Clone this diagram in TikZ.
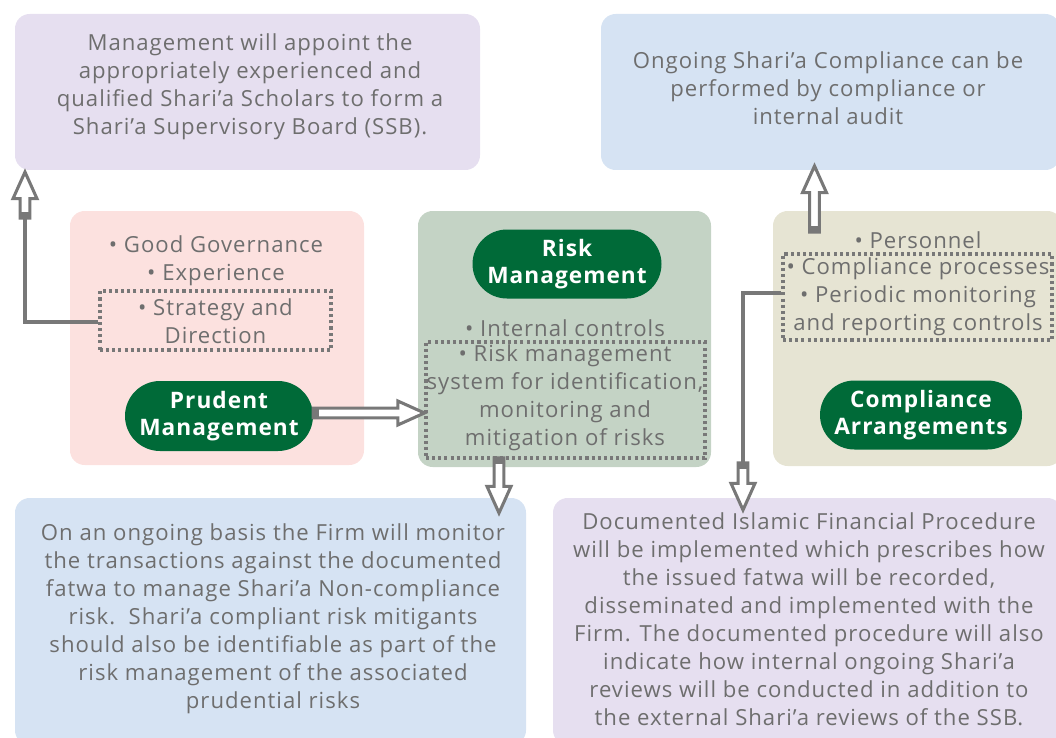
\documentclass[tikz,border=0pt]{standalone}
\usepackage{fontspec}
\setmainfont{Open Sans}[LetterSpace=4.5]
\usetikzlibrary{calc,shapes.misc}
\definecolor{txtgray}{RGB}{110,110,110}
\definecolor{arrgray}{RGB}{120,120,120}
\definecolor{lav}{RGB}{230,223,240}
\definecolor{lblue}{RGB}{214,227,243}
\definecolor{lpink}{RGB}{252,225,223}
\definecolor{lgreen}{RGB}{196,211,197}
\definecolor{lbeige}{RGB}{230,228,211}
\definecolor{pillgreen}{RGB}{0,106,56}
\newcommand\blockarrow[3]{%
  \coordinate (#1b) at ($(#3)!20pt!(#2)$);
  \draw[arrbody] ($(#2)!3.6pt!90:(#3)$) -- ($(#1b)!3.6pt!90:(#3)$) -- ($(#1b)!9pt!90:(#3)$) -- (#3)
     -- ($(#1b)!9pt!-90:(#3)$) -- ($(#1b)!3.6pt!-90:(#3)$) -- ($(#2)!3.6pt!-90:(#3)$) -- cycle;
  \draw[arrcap] (#2) -- ($(#2)!4.5pt!(#3)$);
}
\begin{document}
\begin{tikzpicture}[x=0.75pt,y=-0.75pt,
  bg/.style={rectangle, rounded corners=11pt, draw=none, inner sep=0pt},
  txt/.style={text=txtgray, align=center, inner sep=0pt, font=\fontsize{16.6}{21}\selectfont},
  pill/.style={rounded rectangle, fill=pillgreen, text=white, align=center, inner sep=0pt,
     font=\fontsize{17}{20.5}\selectfont\bfseries},
  dotbox/.style={rectangle, draw=arrgray, line width=2.3pt, dash pattern=on 2.3pt off 2.3pt, inner sep=0pt},
  conn/.style={draw=arrgray, line width=2.5pt},
  arrbody/.style={draw=arrgray, fill=white, line width=2.3pt, line join=miter},
  arrcap/.style={draw=arrgray, line width=9.4pt}
]
\useasboundingbox (0,0) rectangle (1056,738);
% backgrounds
\node[bg, fill=lav,    minimum width=348.75pt, minimum height=117pt]    (tl) at (247.5,92) {};
\node[bg, fill=lblue,  minimum width=344.25pt, minimum height=117pt]    (tr) at (830.5,92) {};
\node[bg, fill=lpink,  minimum width=220.5pt,  minimum height=190.5pt]  (pk) at (217,338) {};
\node[bg, fill=lgreen, minimum width=219.75pt, minimum height=192pt]    (gr) at (564.5,339) {};
\node[bg, fill=lbeige, minimum width=216.75pt, minimum height=191.25pt] (be) at (917.5,338.5) {};
\node[bg, fill=lblue,  minimum width=383.25pt, minimum height=185.25pt] (bl) at (270.5,621.5) {};
\node[bg, fill=lav,    minimum width=381.75pt, minimum height=185.25pt] (br) at (807.5,621.5) {};
% top texts
\node[txt] (tltxt) at (250,87) {Management will appoint the\\appropriately experienced and\\qualified Shari’a Scholars to form a\\Shari’a Supervisory Board (SSB).};
\node[txt] (trtxt) at (828,88) {Ongoing Shari’a Compliance can be\\performed by compliance or\\internal audit};
% pink
\node[txt] (pktxt) at (216,261) {• Good Governance\\• Experience};
\node[dotbox, minimum width=173.25pt, minimum height=44.25pt] (dotL) at (215.5,320.5) {};
\node[txt] (pktxt2) at (215.5,321) {• Strategy and\\Direction};
\node[pill, minimum width=141pt, minimum height=52.5pt] (ppill) at (219,416) {Prudent\\Management};
% green
\node[pill, minimum width=141.75pt, minimum height=51.75pt] (rpill) at (567,264) {Risk\\Management};
\node[txt] (grtxt) at (565,328) {• Internal controls};
\node[dotbox, minimum width=209.25pt, minimum height=87pt] (dotM) at (565.5,400) {};
\node[txt] (grtxt2) at (565,398) {• Risk management\\system for identification,\\monitoring and\\mitigation of risks};
% beige
\node[txt] (betxt) at (918,240) {• Personnel};
\node[dotbox, minimum width=201.75pt, minimum height=64.5pt] (dotR) at (917.5,297) {};
\node[txt] (betxt2) at (918,297) {• Compliance processes\\• Periodic monitoring\\and reporting controls};
\node[pill, minimum width=151.5pt, minimum height=51.75pt] (cpill) at (921,415) {Compliance\\Arrangements};
% bottom texts
\node[txt] (bltxt) at (273,618.5) {On an ongoing basis the Firm will monitor\\the transactions against the documented\\fatwa to manage Shari’a Non-compliance\\risk.\ \ Shari’a compliant risk mitigants\\should also be identifiable as part of the\\risk management of the associated\\prudential risks};
\node[txt] (brtxt) at (809,619.5) {Documented Islamic Financial Procedure\\will be implemented which prescribes how\\the issued fatwa will be recorded,\\disseminated and implemented with the\\Firm. The documented procedure will also\\indicate how internal ongoing Shari'a\\reviews will be conducted in addition to\\the external Shari’a reviews of the SSB.};
% connectors
\coordinate (aTail) at (25,218);
\coordinate (aTip) at (25,172);
\draw[conn] (dotL.west |- 0,322) -| (aTail);
\blockarrow{A}{aTail}{aTip}
\coordinate (bTail) at (ppill.east |- 0,413);
\coordinate (bTip) at (dotM.west |- 0,413);
\blockarrow{B}{bTail}{bTip}
\coordinate (cTail) at (499,458);
\coordinate (cTip) at (499,513);
\blockarrow{C}{cTail}{cTip}
\coordinate (dTail) at (814.5,232);
\coordinate (dTip) at (814.5,166);
\blockarrow{D}{dTail}{dTip}
\coordinate (eTail) at (743,463);
\coordinate (eTip) at (743,510);
\draw[conn] (dotR.west |- 0,293) -| (eTail);
\blockarrow{E}{eTail}{eTip}
\end{tikzpicture}
\end{document}
